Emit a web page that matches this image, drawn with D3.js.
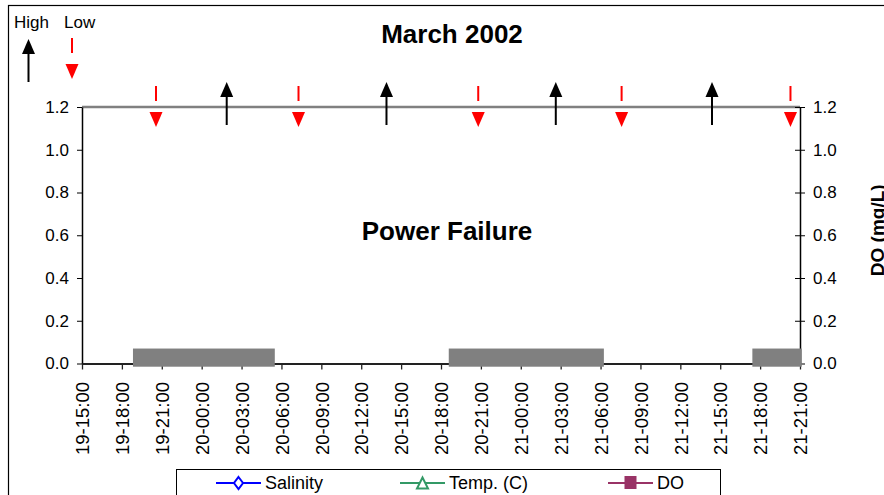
<!DOCTYPE html>
<html>
<head>
<meta charset="utf-8">
<script src="https://cdn.jsdelivr.net/npm/d3@7"></script>
<style>
  html, body { margin: 0; padding: 0; background: #fff; }
  svg { display: block; font-family: "Liberation Sans", Arial, sans-serif; }
</style>
</head>
<body>
<script>
// Time stamps are written as "DD-HH:MM" (day of March 2002, hour:minute)
const tickLabels = ["19-15:00", "19-18:00", "19-21:00", "20-00:00", "20-03:00", "20-06:00",
  "20-09:00", "20-12:00", "20-15:00", "20-18:00", "20-21:00", "21-00:00", "21-03:00",
  "21-06:00", "21-09:00", "21-12:00", "21-15:00", "21-18:00", "21-21:00"];
const yTicks = [0.0, 0.2, 0.4, 0.6, 0.8, 1.0, 1.2];

// Tide turning points
const highTides = ["20-01:53", "20-13:54", "21-02:38", "21-14:23"];
const lowTides = ["19-20:34", "20-07:17", "20-20:48", "21-07:35", "21-20:17"];

// Logger outages (no Salinity / Temp / DO data recorded)
const outageStarts = ["19-18:50", "20-18:35", "21-17:25"];
const outageEnds = ["20-05:30", "21-06:15", "21-21:08"];
const outageTop = 0.07;
const outageBottom = -0.015;

const seriesNames = ["Salinity", "Temp. (C)", "DO"];
const seriesColors = ["#0000FF", "#339966", "#993366"];
const seriesMarkers = ["diamond", "triangle", "square"];

// hours elapsed since 19-15:00
function hoursOf(s) {
  const day = +s.slice(0, 2), hh = +s.slice(3, 5), mm = +s.slice(6, 8);
  return (day - 19) * 24 + hh + mm / 60 - 15;
}

const W = 884, H = 495;
const svg = d3.select("body").append("svg").attr("width", W).attr("height", H);

// outer chart frame
svg.append("rect").attr("x", 8.5).attr("y", 5.5).attr("width", 900).attr("height", 520)
  .attr("fill", "none").attr("stroke", "#000").attr("stroke-width", 1.2);

const tickHours = tickLabels.map(hoursOf);
const x = d3.scaleLinear().domain([tickHours[0], tickHours[tickHours.length - 1]]).range([82, 800]);
const y = d3.scaleLinear().domain([0, 1.2]).range([363.5, 107]);

// title
svg.append("text").attr("x", 452).attr("y", 43).attr("text-anchor", "middle")
  .attr("font-size", 26).attr("font-weight", "bold").text("March 2002");

// top border of plot area
svg.append("line").attr("x1", x.range()[0]).attr("x2", x.range()[1])
  .attr("y1", y(1.2)).attr("y2", y(1.2)).attr("stroke", "#808080").attr("stroke-width", 2.5);

// left axis
const gl = svg.append("g").attr("transform", `translate(${x.range()[0]},0)`)
  .call(d3.axisLeft(y).tickValues(yTicks).tickFormat(d3.format(".1f")).tickSize(5).tickSizeOuter(0).tickPadding(8));
gl.select(".domain").attr("stroke", "#000").attr("stroke-width", 1.5);
gl.selectAll("text").attr("font-size", 17).attr("font-family", "Liberation Sans, Arial, sans-serif").attr("fill", "#000");

// right axis (ticks cross the line)
const gr = svg.append("g").attr("transform", `translate(${x.range()[1]},0)`)
  .call(d3.axisRight(y).tickValues(yTicks).tickFormat(d3.format(".1f")).tickSize(5).tickSizeOuter(0).tickPadding(8));
gr.select(".domain").attr("stroke", "#000").attr("stroke-width", 1.5);
gr.selectAll(".tick line").attr("x1", -5);
gr.selectAll("text").attr("font-size", 17).attr("font-family", "Liberation Sans, Arial, sans-serif").attr("fill", "#000");

// right axis title
svg.append("text").attr("transform", `translate(884,${(y(0) + y(1.2)) / 2 - 5}) rotate(-90)`)
  .attr("text-anchor", "middle").attr("font-size", 19).attr("font-weight", "bold").text("DO (mg/L)");

// bottom axis
const gx = svg.append("g").attr("transform", `translate(0,${y(0)})`)
  .call(d3.axisBottom(x).tickValues(tickHours).tickFormat((d, i) => tickLabels[i]).tickSize(6).tickSizeOuter(0));
gx.select(".domain").attr("stroke", "#222").attr("stroke-width", 2.2);
gx.selectAll(".tick line").attr("stroke", "#222").attr("stroke-width", 1.3);
gx.selectAll("text")
  .attr("transform", "rotate(-90)")
  .attr("text-anchor", "end")
  .attr("x", -18.5).attr("y", 0).attr("dy", "0.36em")
  .attr("font-size", 18.5).attr("font-family", "Liberation Sans, Arial, sans-serif").attr("fill", "#000");

// outage bars
svg.append("g").selectAll("rect").data(outageStarts.map((s, i) => ({ s: hoursOf(s), e: hoursOf(outageEnds[i]) })))
  .join("rect")
  .attr("x", d => x(d.s)).attr("width", d => x(d.e) - x(d.s))
  .attr("y", y(outageTop)).attr("height", y(outageBottom) - y(outageTop))
  .attr("fill", "#808080");

// annotation
svg.append("text").attr("x", 447).attr("y", 240).attr("text-anchor", "middle")
  .attr("font-size", 26).attr("font-weight", "bold").text("Power Failure");

// tide arrows
function highArrow(g, cx, tip) {
  g.append("path").attr("d", `M${cx - 6.5},${tip + 15} L${cx},${tip} L${cx + 6.5},${tip + 15} Z`).attr("fill", "#000");
  g.append("line").attr("x1", cx).attr("x2", cx).attr("y1", tip + 12).attr("y2", tip + 43)
    .attr("stroke", "#000").attr("stroke-width", 2);
}
function lowArrow(g, cx, top) {
  g.append("line").attr("x1", cx).attr("x2", cx).attr("y1", top).attr("y2", top + 15)
    .attr("stroke", "#f00").attr("stroke-width", 2);
  g.append("path").attr("d", `M${cx - 6.5},${top + 26} L${cx},${top + 41} L${cx + 6.5},${top + 26} Z`).attr("fill", "#f00");
}
const ga = svg.append("g");
highTides.forEach(t => highArrow(ga, x(hoursOf(t)), y(1.2) - 25));
lowTides.forEach(t => lowArrow(ga, x(hoursOf(t)), y(1.2) - 21));

// tide key
svg.append("text").attr("x", 14).attr("y", 28).attr("font-size", 17).text("High");
svg.append("text").attr("x", 64).attr("y", 28).attr("font-size", 17).text("Low");
highArrow(ga, 28.5, 39);
lowArrow(ga, 72, 38);

// series legend
const lg = svg.append("g");
lg.append("rect").attr("x", 176.5).attr("y", 469.5).attr("width", 544).attr("height", 50)
  .attr("fill", "#fff").attr("stroke", "#000").attr("stroke-width", 1);
const legendX = [216, 400, 608];
const ly = 483;
seriesNames.forEach((name, i) => {
  const x0 = legendX[i], c = seriesColors[i], cx = x0 + 22.5;
  lg.append("line").attr("x1", x0).attr("x2", x0 + 45).attr("y1", ly).attr("y2", ly)
    .attr("stroke", c).attr("stroke-width", 2);
  const m = seriesMarkers[i];
  if (m === "diamond") {
    lg.append("path").attr("d", `M${cx},${ly - 6} L${cx + 4.5},${ly} L${cx},${ly + 6} L${cx - 4.5},${ly} Z`)
      .attr("fill", "#fff").attr("stroke", c).attr("stroke-width", 2);
  } else if (m === "triangle") {
    lg.append("path").attr("d", `M${cx},${ly - 5.5} L${cx + 5.5},${ly + 5.5} L${cx - 5.5},${ly + 5.5} Z`)
      .attr("fill", "#fff").attr("stroke", c).attr("stroke-width", 2);
  } else {
    lg.append("rect").attr("x", cx - 6).attr("y", ly - 7).attr("width", 12).attr("height", 13).attr("fill", c);
  }
  lg.append("text").attr("x", x0 + 49).attr("y", ly).attr("dy", "0.36em")
    .attr("font-size", 18).text(name);
});
</script>
</body>
</html>
